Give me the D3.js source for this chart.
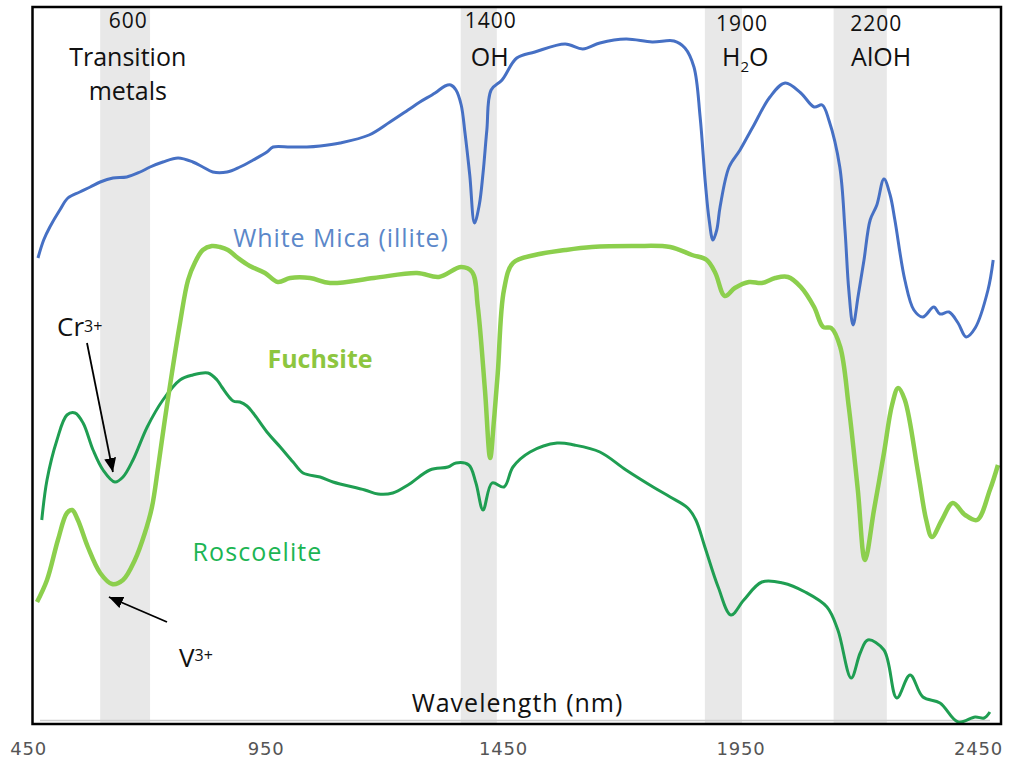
<!DOCTYPE html>
<html><head><meta charset="utf-8">
<script src="https://cdn.jsdelivr.net/npm/d3@7"></script>
<style>body{margin:0;background:#fff}svg{display:block}</style>
</head><body><svg id="c" width="1009" height="761"></svg>
<script>
// ---- DATA (wavelength nm, relative reflectance, offset, arbitrary units) ----
const whiteMica = [[471,465],[483,483],[496,496],[517,513],[534,525],[559,531],[581,536],[602,541],[629,545],[658,546],[686,551],[707,556],[734,561],[766,565],[797,561],[818,556],[839,551],[869,551],[896,556],[924,563],[953,571],[966,576],[1002,576],[1037,576],[1065,577],[1107,580],[1168,588],[1212,601],[1250,613],[1275,621],[1307,630],[1328,637],[1340,638],[1351,633],[1362,618],[1370,590],[1380,548],[1390,500],[1400,518],[1408,550],[1416,593],[1425,633],[1448,643],[1479,665],[1517,671],[1581,679],[1618,674],[1654,680],[1709,684],[1764,681],[1810,682],[1833,675],[1852,656],[1865,606],[1876,540],[1884,503],[1892,483],[1900,493],[1907,516],[1926,556],[1949,573],[1976,596],[2012,626],[2044,640],[2077,630],[2105,616],[2122,618],[2136,603],[2159,556],[2170,493],[2178,433],[2187,398],[2198,428],[2210,463],[2223,503],[2237,518],[2252,544],[2265,528],[2275,503],[2296,443],[2315,413],[2334,406],[2357,416],[2370,409],[2389,411],[2408,400],[2425,386],[2444,395],[2471,433],[2482,463]];
const fuchsite = [[469,121],[490,143],[513,183],[532,210],[543,213],[555,203],[576,176],[602,150],[627,139],[650,143],[675,163],[696,190],[711,216],[724,256],[738,303],[753,350],[770,400],[787,443],[802,461],[818,473],[837,477],[854,476],[871,473],[892,465],[917,457],[949,450],[976,441],[1002,445],[1044,445],[1086,440],[1178,445],[1269,450],[1315,446],[1362,456],[1385,451],[1397,416],[1412,333],[1423,265],[1431,303],[1439,350],[1452,433],[1471,460],[1517,468],[1581,473],[1637,476],[1728,477],[1802,476],[1848,468],[1879,463],[1897,450],[1917,427],[1938,435],[1968,441],[1995,440],[2023,445],[2050,446],[2077,436],[2105,416],[2124,396],[2141,395],[2160,376],[2178,316],[2197,233],[2212,163],[2231,213],[2252,270],[2269,318],[2282,335],[2296,323],[2324,250],[2341,203],[2353,186],[2374,203],[2397,220],[2423,208],[2448,203],[2475,233],[2492,258]];
const roscoelite = [[479,203],[490,243],[511,283],[532,308],[549,310],[566,300],[587,273],[608,253],[633,241],[650,246],[671,263],[701,296],[734,323],[770,343],[797,348],[829,350],[848,343],[858,336],[882,322],[896,321],[911,317],[924,310],[953,291],[981,276],[1008,261],[1029,250],[1065,246],[1092,241],[1159,233],[1187,229],[1218,230],[1250,238],[1296,253],[1334,256],[1351,260],[1378,258],[1393,240],[1408,213],[1427,240],[1452,236],[1471,256],[1507,271],[1564,280],[1600,278],[1654,271],[1709,253],[1766,236],[1802,226],[1839,215],[1856,203],[1875,176],[1903,136],[1930,108],[1957,123],[1995,141],[2039,140],[2086,131],[2132,116],[2155,93],[2183,45],[2202,70],[2218,83],[2252,73],[2279,25],[2307,48],[2334,26],[2370,20],[2408,1],[2444,6],[2463,5],[2475,11]];
const bands = [[602,707],[1361,1437],[1875,1953],[2146,2258]];
const bandNumbers = ["600","1400","1900","2200"];
const bandNames = [["Transition","metals"],["OH"],["H|2|O"],["AlOH"]];
const tickValues = [450,950,1450,1950,2450];
const seriesNames = ["White Mica (illite)","Fuchsite","Roscoelite"];
const ionLabels = ["Cr","V"];

// ---- LAYOUT ----
const svg = d3.select("#c");
const x = d3.scaleLinear().domain([450,2450]).range([28,978]);
const y = d3.scaleLinear().domain([0,716]).range([723,7]);
const frame = {l:32.5, t:7, r:1001, b:724};

// bands
svg.append("g").selectAll("rect").data(bands).join("rect")
  .attr("x", d=>x(d[0])).attr("width", d=>x(d[1])-x(d[0]))
  .attr("y", frame.t+1).attr("height", frame.b-frame.t-1)
  .attr("fill","#e8e8e8");

// faint inner bottom line
svg.append("line").attr("x1",40).attr("x2",990).attr("y1",720.5).attr("y2",720.5)
  .attr("stroke","#cfcfcf").attr("stroke-width",1.5);

// lines
const line = d3.line().x(d=>x(d[0])).y(d=>y(d[1])).curve(d3.curveCatmullRom.alpha(0.5));
svg.append("path").datum(roscoelite).attr("d",line).attr("fill","none")
  .attr("stroke","#1f9e52").attr("stroke-width",3).attr("stroke-linejoin","round");
svg.append("path").datum(whiteMica).attr("d",line).attr("fill","none")
  .attr("stroke","#4670c4").attr("stroke-width",3).attr("stroke-linejoin","round");
svg.append("path").datum(fuchsite).attr("d",line).attr("fill","none")
  .attr("stroke","#8ccf4d").attr("stroke-width",4.5).attr("stroke-linejoin","round");

// frame
svg.append("rect").attr("x",frame.l).attr("y",frame.t)
  .attr("width",frame.r-frame.l).attr("height",frame.b-frame.t)
  .attr("fill","none").attr("stroke","#000").attr("stroke-width",2.5);

// band labels
const labelX = [661, 1424, 1953, 2236];
const nameX = [660, 1422, 1960, 2246];
const numBase = [28,28,31,31];
svg.append("g").selectAll("text").data(bandNumbers).join("text")
  .attr("x",(d,i)=>x(labelX[i])).attr("y",(d,i)=>numBase[i])
  .attr("text-anchor","middle").attr("font-family","Open Sans").attr("font-size",21)
  .attr("letter-spacing","1px").attr("fill","#111").text(d=>d);
bandNames.forEach((lines,i)=>{
  lines.forEach((ln,j)=>{
    const t = svg.append("text").attr("x",x(nameX[i])).attr("y",66+j*34)
      .attr("text-anchor","middle").attr("font-family","Open Sans").attr("font-size",25)
      .attr("fill","#111");
    if (ln.includes("|")) {
      const p = ln.split("|");
      t.append("tspan").text(p[0]);
      t.append("tspan").attr("font-size",15).attr("dy",6).text(p[1]);
      t.append("tspan").attr("dy",-6).text(p[2]);
    } else t.text(ln);
  });
});

// series labels
const sStyle = [
  {x:341, y:247, fill:"#5b87c9", w:400, ls:0.9},
  {x:320, y:368, fill:"#8dc63f", w:700, ls:0},
  {x:257.5, y:561, fill:"#1cb553", w:500, ls:1.1}
];
svg.append("g").selectAll("text").data(seriesNames).join("text")
  .attr("x",(d,i)=>sStyle[i].x).attr("y",(d,i)=>sStyle[i].y)
  .attr("text-anchor","middle").attr("font-family","Open Sans").attr("font-size",25)
  .attr("font-weight",(d,i)=>sStyle[i].w).attr("letter-spacing",(d,i)=>sStyle[i].ls+"px")
  .attr("fill",(d,i)=>sStyle[i].fill).text(d=>d);

// ion annotations
const defs = svg.append("defs");
defs.append("marker").attr("id","ah").attr("viewBox","0 0 14 12")
  .attr("refX",14).attr("refY",6).attr("markerWidth",14).attr("markerHeight",12)
  .attr("markerUnits","userSpaceOnUse").attr("orient","auto")
  .append("path").attr("d","M0,0 L14,6 L0,12 Z").attr("fill","#000");
const ions = [
  {tx:57, ty:336, sdy:-4, x1:87, y1:343, tip:[633,241], tipDy:-10, tipDx:-2},
  {tx:179, ty:667, sdy:-6, x1:167, y1:622, tip:[633,139], tipDy:13, tipDx:-6}
];
ionLabels.forEach((lab,i)=>{
  const o = ions[i];
  const t = svg.append("text").attr("x",o.tx).attr("y",o.ty)
    .attr("font-family","Open Sans").attr("font-size",26).attr("fill","#111");
  t.append("tspan").text(lab);
  t.append("tspan").attr("font-size",16).attr("dy",o.sdy).text("3+");
  svg.append("line").attr("x1",o.x1).attr("y1",o.y1)
    .attr("x2",x(o.tip[0])+o.tipDx).attr("y2",y(o.tip[1])+o.tipDy)
    .attr("stroke","#000").attr("stroke-width",1.8).attr("marker-end","url(#ah)");
});

// axis
const ax = svg.append("g").attr("transform","translate(0,737)")
  .call(d3.axisBottom(x).tickValues(tickValues).tickSize(0).tickPadding(5.5).tickFormat(d3.format("d")));
ax.select(".domain").remove();
ax.selectAll("text").attr("font-family","DejaVu Sans").attr("font-size",18)
  .attr("letter-spacing","0.8px").attr("fill","#555");

svg.append("text").attr("x",517.5).attr("y",712).attr("text-anchor","middle")
  .attr("font-family","Open Sans").attr("font-size",25).attr("letter-spacing","1px")
  .attr("fill","#111").text("Wavelength (nm)");
</script></body></html>
